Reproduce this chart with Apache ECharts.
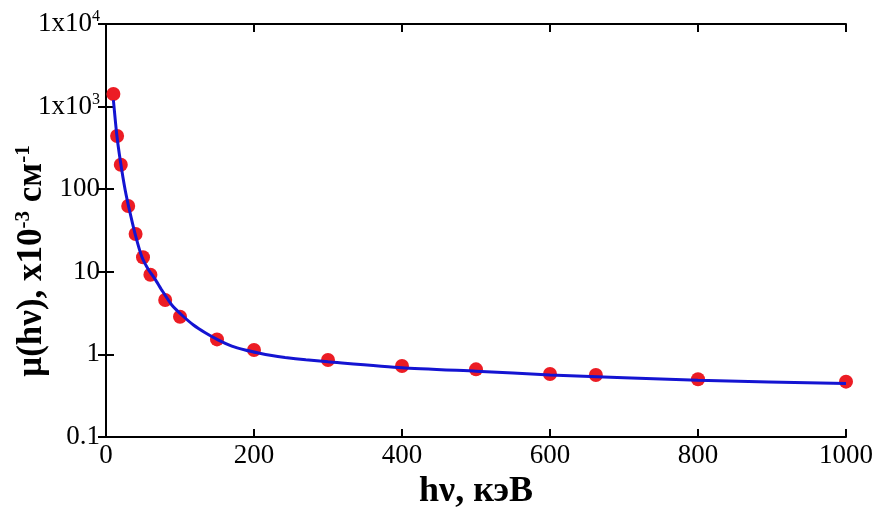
<!DOCTYPE html>
<html>
<head>
<meta charset="utf-8">
<script src="https://cdn.jsdelivr.net/npm/echarts@6/dist/echarts.min.js"></script>
<style>html,body{margin:0;padding:0;background:#fff;}#c{width:878px;height:519px;}</style>
</head>
<body>
<div id="c"></div>
<script>
// Measured points (keV, μ ×10^-3 cm^-1)
const energies = [10, 15, 20, 30, 40, 50, 60, 80, 100, 150, 200, 300, 400, 500, 600, 662, 800, 1000];
const muMeasured = [1420, 441, 198, 62.6, 28.7, 15.0, 9.2, 4.56, 2.86, 1.52, 1.13, 0.855, 0.724, 0.659, 0.58, 0.564, 0.50, 0.468];
// Fitted curve
const fitEnergies = [10, 14.6, 19.2, 25.9, 32.7, 40.3, 48.4, 57.4, 66.5, 75.4, 88.9, 102.4, 118.2, 134.1, 152, 170, 188, 206, 224, 242, 270, 300, 400, 500, 600, 800, 1000];
const muFit = [1200, 453, 226, 98, 51, 26.6, 15.2, 10.6, 8.1, 6.0, 3.96, 3.0, 2.27, 1.83, 1.49, 1.26, 1.13, 1.04, 0.97, 0.92, 0.86, 0.815, 0.69, 0.625, 0.565, 0.485, 0.445];
// Axis tick labels
const xTicks = [0, 200, 400, 600, 800, 1000];
const yTickLabels = {'0.1': '{n|0.1}', '1': '{n|1}', '10': '{n|10}', '100': '{n|100}', '1000': '{n|1x10}{s|3}', '10000': '{n|1x10}{s|4}'};

const serif = '"Liberation Serif", "Times New Roman", serif';
const chart = echarts.init(document.getElementById('c'), null, {renderer: 'canvas'});
const axisLine = {show: true, lineStyle: {color: '#000', width: 2}};
const axisTick = {show: true, inside: true, length: 8, lineStyle: {color: '#000', width: 2}};
chart.setOption({
  backgroundColor: '#fff',
  animation: false,
  grid: {left: 106, right: 32, top: 24, bottom: 82},
  xAxis: [{
    type: 'value', min: 0, max: 1000, interval: 200, position: 'bottom',
    axisLine, axisTick, splitLine: {show: false},
    axisLabel: {color: '#000', fontFamily: serif, fontSize: 27, margin: 5,
      formatter: v => xTicks.includes(v) ? String(v) : ''},
    name: 'hν, кэВ', nameLocation: 'middle', nameGap: 35,
    nameTextStyle: {color: '#000', fontFamily: serif, fontSize: 36, fontWeight: 'bold'}
  }, {
    type: 'value', min: 0, max: 1000, interval: 200, position: 'top',
    axisLine, axisTick, splitLine: {show: false}, axisLabel: {show: false}
  }],
  yAxis: [{
    type: 'log', logBase: 10, min: 0.1, max: 10000, position: 'left',
    axisLine, axisTick, splitLine: {show: false}, minorTick: {show: false},
    axisLabel: {color: '#000', fontFamily: serif, fontSize: 27, margin: 6,
      formatter: v => yTickLabels[String(+v.toPrecision(6))] || '',
      rich: {
        n: {fontFamily: serif, fontSize: 27, color: '#000'},
        s: {fontFamily: serif, fontSize: 16, color: '#000', padding: [0, 0, 14, 0]}
      }}
  }, {
    type: 'log', logBase: 10, min: 0.1, max: 10000, position: 'right',
    axisLine, axisTick, splitLine: {show: false}, axisLabel: {show: false}
  }],
  graphic: [{
    type: 'text', x: 32, y: 261, rotation: Math.PI / 2,
    style: {
      text: '{a|μ(hν), x10}{s|-3}{a| см}{s|-1}',
      align: 'center', verticalAlign: 'middle',
      rich: {
        a: {fontFamily: serif, fontSize: 35, fontWeight: 'bold', fill: '#000'},
        s: {fontFamily: serif, fontSize: 21, fontWeight: 'bold', fill: '#000', padding: [0, 0, 16, 0]}
      }
    }
  }],
  series: [{
    type: 'line', name: 'fit', xAxisIndex: 0, yAxisIndex: 0,
    data: fitEnergies.map((e, i) => [e, muFit[i]]),
    smooth: 0.2, showSymbol: false, symbol: 'none',
    lineStyle: {color: '#1414d2', width: 3}, z: 3
  }, {
    type: 'scatter', name: 'data', xAxisIndex: 0, yAxisIndex: 0,
    data: energies.map((e, i) => [e, muMeasured[i]]),
    symbol: 'circle', symbolSize: 14,
    itemStyle: {color: '#ec1c24', opacity: 1}, z: 2
  }]
});
</script>
</body>
</html>
